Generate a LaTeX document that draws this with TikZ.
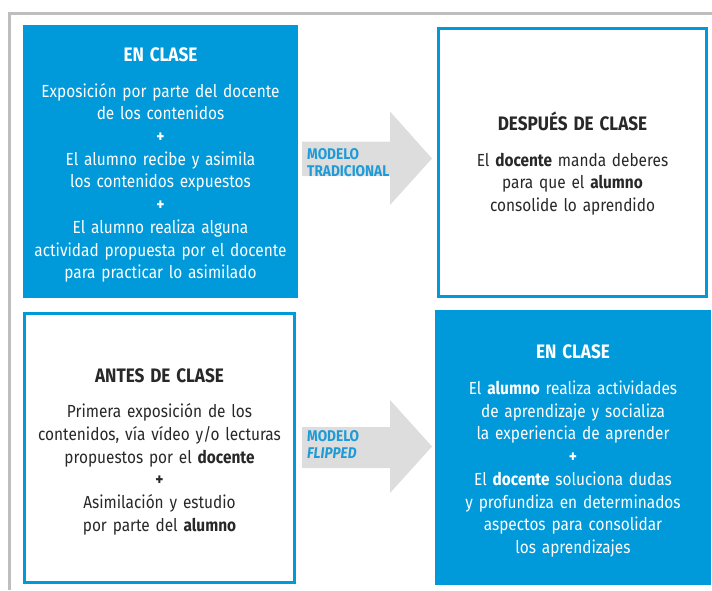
\documentclass[tikz,border=0pt]{standalone}
\usepackage{fontspec}
\setmainfont{Fira Sans}[FakeStretch=0.88]
\definecolor{azul}{RGB}{0,153,218}
\definecolor{texto}{RGB}{40,40,40}
\definecolor{grisflecha}{RGB}{221,221,221}
\definecolor{grismarco}{RGB}{190,190,190}
\definecolor{azultexto}{RGB}{30,155,215}
\newcommand{\titulo}[1]{{\fontsize{19.5}{22}\selectfont\bfseries\rule{0pt}{21pt}#1}\\[13pt]}
\newcommand{\mas}{\textbf{+}}

\begin{document}
\begin{tikzpicture}[x=1pt,y=-1pt,
  caja/.style={align=center, inner sep=0pt, text width=255pt, font=\fontsize{17.5}{22.7}\selectfont},
  llena/.style={caja, fill=azul, text=white},
  hueca/.style={caja, draw=azul, line width=3pt, fill=white, text=texto},
  flecha/.style={fill=grisflecha},
  etiqueta/.style={align=left, inner sep=0pt, anchor=north west, text=azultexto, font=\fontsize{15.5}{17}\selectfont\bfseries}]

\useasboundingbox (0,0) rectangle (712,590);
\draw[grismarco, line width=3pt] (712,13) -- (9,13) -- (9,590); % el marco

% las flechas grises
\fill[flecha] (302,141.5) -- (390,141.5) -- (390,111.5) -- (432,158.5) -- (390,205) -- (390,176) -- (302,176) -- cycle;
\fill[flecha] (302,427) -- (390,427) -- (390,400) -- (432,446.5) -- (390,493) -- (390,468) -- (302,468) -- cycle;

\node[etiqueta] (lbltrad) at (307,148) {MODELO\\TRADICIONAL};
\node[etiqueta] (lblflip) at (307,430) {MODELO\\\itshape FLIPPED};

% modelo tradicional
\node[llena, minimum width=275pt, minimum height=273pt] (enclase) at (160.5,161.5) {\titulo{EN CLASE}
Exposición por parte del docente\\
de los contenidos\\
\mas\\
El alumno recibe y asimila\\
los contenidos expuestos\\
\mas\\
El alumno realiza alguna\\
actividad propuesta por el docente\\
para practicar lo asimilado};

\node[hueca, minimum width=268pt, minimum height=268pt] (despues) at (572.5,162.5) {\titulo{DESPUÉS DE CLASE}
El \textbf{docente} manda deberes\\
para que el \textbf{alumno}\\
consolide lo aprendido};

% modelo flipped
\node[hueca, minimum width=270pt, minimum height=269pt] (antes) at (159.5,448) {\titulo{ANTES DE CLASE}
Primera exposición de los\\
contenidos, vía vídeo y/o lecturas\\
propuestos por el \textbf{docente}\\
\mas\\
Asimilación y estudio\\
por parte del \textbf{alumno}};

\node[llena, minimum width=276pt, minimum height=275pt] (enclaseflip) at (573,447.5) {\titulo{EN CLASE}
El \textbf{alumno} realiza actividades\\
de aprendizaje y socializa\\
la experiencia de aprender\\
\mas\\
El \textbf{docente} soluciona dudas\\
y profundiza en determinados\\
aspectos para consolidar\\
los aprendizajes};

\end{tikzpicture}
\end{document}
